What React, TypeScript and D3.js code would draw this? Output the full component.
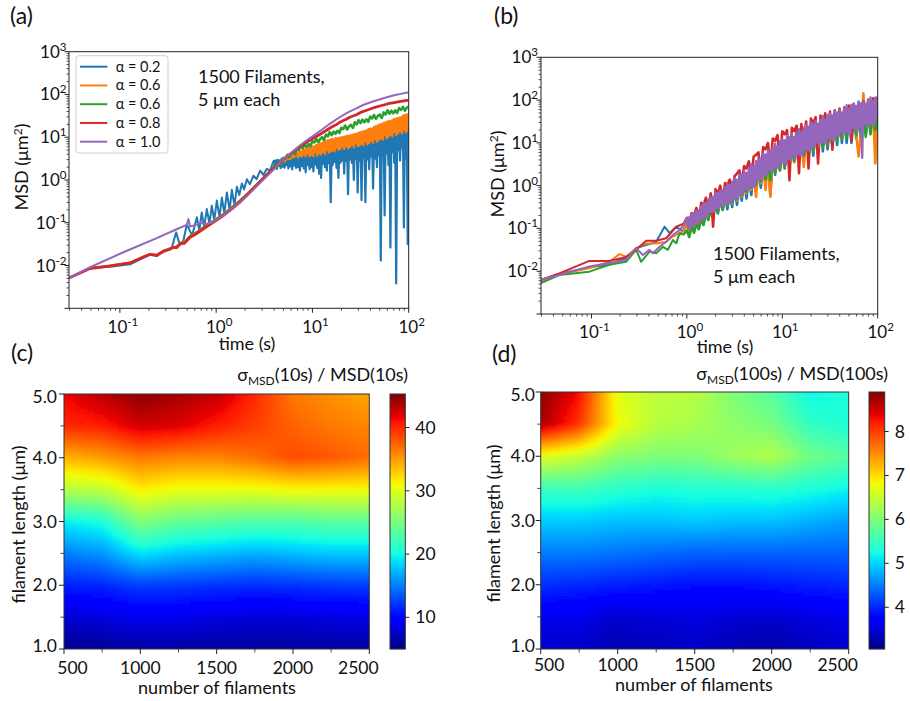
import React from "react";
import * as d3 from "d3";

type P = [number, number];
const FONT = "Lato, 'Open Sans', 'DejaVu Sans', sans-serif";

const seriesColors = ["#1f77b4", "#ff7f0e", "#2ca02c", "#d62728", "#9467bd"];
const seriesLabels = ["α = 0.2", "α = 0.6", "α = 0.6", "α = 0.8", "α = 1.0"];

const timeDomain: [number, number] = [0.0296, 100];
const msdDomain: [number, number] = [1e-3, 1e3];
const timeDecades = [-1, 0, 1, 2];
const msdDecades = [-2, -1, 0, 1, 2, 3];

// ---------- panel (a): [log10 t, log10 MSD] ----------
const aBlueHead: P[] = [[-1.529,-2.29],[-1.31,-2.06],[-1.10,-2.03],[-0.894,-1.97],[-0.756,-1.82],[-0.686,-1.74],[-0.617,-1.78],[-0.548,-1.66],[-0.46,-1.58],[-0.416,-1.225],[-0.38,-1.50],[-0.34,-1.42],[-0.305,-1.03],[-0.25,-1.30],[-0.20,-0.874],[-0.175,-1.18],[-0.15,-0.76],[-0.125,-1.10],[-0.097,-0.68],[-0.07,-1.02],[-0.045,-0.60],[-0.02,-0.95],[0.007,-0.48],[0.035,-0.88],[0.059,-0.41],[0.085,-0.78],[0.111,-0.29],[0.14,-0.70],[0.163,-0.23],[0.19,-0.60],[0.215,-0.16],[0.24,-0.35],[0.267,-0.08],[0.29,-0.22],[0.319,0.02],[0.35,-0.10],[0.388,0.10],[0.42,0.02],[0.457,0.22],[0.49,0.12],[0.527,0.26],[0.56,0.22],[0.585,0.38]];
const aOrangeHead: P[] = [[-1.529,-2.29],[-1.31,-2.06],[-1.10,-2.00],[-0.894,-1.93],[-0.756,-1.79],[-0.686,-1.73],[-0.617,-1.75],[-0.548,-1.65],[-0.48,-1.60],[-0.45,-1.56],[-0.409,-1.55],[-0.37,-1.46],[-0.33,-1.45],[-0.27,-1.30],[-0.20,-1.21],[-0.132,-1.10],[-0.05,-0.98],[0.076,-0.79],[0.16,-0.64],[0.25,-0.47],[0.34,-0.28],[0.423,-0.09],[0.51,0.10],[0.585,0.27]];
const aGreenHead: P[] = [[-1.529,-2.29],[-1.31,-2.06],[-1.10,-2.01],[-0.894,-1.94],[-0.756,-1.80],[-0.686,-1.74],[-0.617,-1.76],[-0.548,-1.66],[-0.48,-1.61],[-0.45,-1.57],[-0.409,-1.56],[-0.37,-1.47],[-0.33,-1.46],[-0.27,-1.31],[-0.20,-1.22],[-0.132,-1.11],[-0.05,-0.99],[0.076,-0.80],[0.16,-0.65],[0.25,-0.48],[0.34,-0.29],[0.423,-0.10],[0.51,0.09],[0.585,0.27]];
const aRedLine: P[] = [[-1.529,-2.29],[-1.31,-2.07],[-1.10,-2.01],[-0.894,-1.94],[-0.756,-1.80],[-0.686,-1.74],[-0.617,-1.76],[-0.548,-1.67],[-0.48,-1.62],[-0.45,-1.58],[-0.409,-1.58],[-0.37,-1.49],[-0.33,-1.48],[-0.27,-1.34],[-0.20,-1.25],[-0.132,-1.14],[-0.05,-1.02],[0.076,-0.83],[0.16,-0.68],[0.25,-0.51],[0.34,-0.31],[0.423,-0.12],[0.51,0.08],[0.6,0.28],[0.65,0.38],[0.70,0.48],[0.735,0.55],[0.80,0.66],[0.85,0.75],[0.90,0.83],[0.95,0.90],[1.0,0.97],[1.05,1.03],[1.1,1.10],[1.15,1.17],[1.2,1.24],[1.25,1.30],[1.3,1.37],[1.35,1.42],[1.4,1.48],[1.45,1.52],[1.5,1.58],[1.55,1.62],[1.6,1.66],[1.65,1.70],[1.7,1.73],[1.75,1.76],[1.8,1.79],[1.85,1.81],[1.9,1.83],[1.95,1.85],[2.0,1.87]];
const aPurpleLine: P[] = [[-1.529,-2.29],[-1.31,-2.04],[-0.964,-1.69],[-0.617,-1.36],[-0.40,-1.14],[-0.305,-1.05],[-0.288,-0.91],[-0.27,-1.09],[-0.20,-1.04],[-0.166,-1.00],[-0.10,-1.02],[-0.05,-1.00],[0.0,-0.93],[0.076,-0.83],[0.16,-0.68],[0.25,-0.52],[0.34,-0.33],[0.423,-0.14],[0.51,0.05],[0.596,0.24],[0.665,0.42],[0.735,0.55],[0.85,0.77],[0.93,0.91],[1.011,1.036],[1.1,1.18],[1.185,1.32],[1.27,1.45],[1.359,1.57],[1.45,1.67],[1.532,1.76],[1.62,1.83],[1.705,1.89],[1.78,1.94],[1.85,1.98],[1.93,2.02],[2.0,2.05]];

const aNoiseTFine = [0.60,0.61,0.62,0.63,0.64,0.65,0.66,0.67,0.68,0.69,
  0.70,0.71,0.72,0.73,0.74,0.75,0.76,0.77,0.78,0.79,
  0.80,0.81,0.82,0.83,0.84,0.85,0.86,0.87,0.88,0.89,
  0.90,0.91,0.92,0.93,0.94,0.95,0.96,0.97,0.98,0.99,
  1.00,1.01,1.02,1.03,1.04,1.05,1.06,1.07,1.08,1.09,
  1.10,1.11,1.12,1.13,1.14,1.15,1.16,1.17,1.18,1.19,
  1.20,1.21,1.22,1.23,1.24,1.25,1.26,1.27,1.28,1.29,
  1.30,1.31,1.32,1.33,1.34,1.35,1.36,1.37,1.38,1.39,
  1.40,1.41,1.42,1.43,1.44,1.45,1.46,1.47,1.48,1.49,
  1.50,1.51,1.52,1.53,1.54,1.55,1.56,1.57,1.58,1.59,
  1.60,1.61,1.62,1.63,1.64,1.65,1.66,1.67,1.68,1.69,
  1.70,1.71,1.72,1.73,1.74,1.75,1.76,1.77,1.78,1.79,
  1.80,1.81,1.82,1.83,1.84,1.85,1.86,1.87,1.88,1.89,
  1.90,1.91,1.92,1.93,1.94,1.95,1.96,1.97,1.98,1.99,
  2.00];
const aNoiseTCoarse = [0.60,0.62,0.64,0.66,0.68,0.70,0.72,0.74,0.76,0.78,0.80,0.82,0.84,0.86,0.88,0.90,0.92,0.94,0.96,0.98,1.00,1.02,1.04,1.06,1.08,1.10,1.12,1.14,1.16,1.18,1.20,1.22,1.24,1.26,1.28,1.30,1.32,1.34,1.36,1.38,1.40,1.42,1.44,1.46,1.48,1.50,1.52,1.54,1.56,1.58,1.60,1.62,1.64,1.66,1.68,1.70,1.72,1.74,1.76,1.78,1.80,1.82,1.84,1.86,1.88,1.90,1.92,1.94,1.96,1.98,2.00];
const aBlueNoise = [0.45,0.30,0.46,0.26,0.47,0.33,0.46,0.28,0.50,0.31,
  0.51,0.29,0.50,0.35,0.53,0.27,0.54,0.32,0.55,0.25,
  0.57,0.34,0.56,0.28,0.58,0.30,0.59,0.22,0.58,0.33,
  0.61,0.27,0.60,0.18,0.62,0.35,0.63,0.25,0.62,0.30,
  0.65,0.20,0.64,0.36,0.66,0.28,0.65,0.15,0.68,0.05,
  0.69,0.38,0.68,0.30,0.70,0.22,0.71,0.40,0.70,-0.52,
  0.72,0.35,0.73,0.42,0.72,0.28,0.75,0.05,0.76,0.40,
  0.77,0.45,0.76,0.15,0.79,0.44,0.80,-0.33,0.81,0.48,
  0.82,0.40,0.83,0.00,0.84,0.50,0.85,-0.29,0.86,0.45,
  0.87,-0.47,0.88,0.52,0.89,-0.52,0.90,0.48,0.92,0.25,
  0.93,0.55,0.94,-0.20,0.95,0.50,0.96,0.30,0.98,0.58,
  0.99,-1.88,1.00,0.55,1.01,-0.83,1.02,0.62,1.04,0.35,
  1.05,-1.58,1.06,0.65,1.08,0.40,1.09,-2.42,1.11,0.70,
  1.13,0.45,1.14,0.75,1.15,-1.11,1.17,0.50,1.18,-1.50,
  1.20];
const aOrangeNoise = [0.30,0.31,0.33,0.33,0.36,0.36,0.39,0.38,0.42,0.41,
  0.47,0.43,0.49,0.48,0.50,0.49,0.55,0.49,0.52,0.55,
  0.60,0.53,0.61,0.58,0.62,0.53,0.66,0.56,0.67,0.55,
  0.70,0.60,0.71,0.55,0.73,0.62,0.75,0.56,0.76,0.59,
  0.78,0.55,0.79,0.65,0.82,0.57,0.82,0.62,0.86,0.60,
  0.87,0.66,0.90,0.61,0.91,0.70,0.93,0.64,0.94,0.67,
  0.96,0.70,0.95,0.67,0.98,0.76,0.98,0.70,0.99,0.73,
  1.00,0.78,1.01,0.72,1.02,0.80,1.03,0.74,1.04,0.77,
  1.05,0.82,1.06,0.76,1.08,0.86,1.08,0.79,1.11,0.81,
  1.12,0.85,1.13,0.81,1.15,0.90,1.16,0.83,1.19,0.86,
  1.20,0.92,1.21,0.87,1.24,0.96,1.26,0.89,1.28,0.93,
  1.30,0.98,1.31,0.94,1.34,1.05,1.35,0.97,1.37,1.01,
  1.38,1.06,1.39,1.02,1.42,1.13,1.43,1.05,1.45,1.09,
  1.46,1.14,1.47,1.09,1.51,1.18,1.52,1.12,1.54,1.16,
  1.55];
const aGreenNoise = [0.30,0.37,0.33,0.42,0.38,0.52,0.50,0.59,0.53,0.61,
  0.66,0.60,0.73,0.70,0.80,0.74,0.82,0.77,0.84,0.79,
  0.91,0.88,0.96,0.88,0.96,1.00,0.93,1.06,1.02,1.12,
  1.05,1.13,1.08,1.15,1.10,1.22,1.19,1.27,1.18,1.25,
  1.29,1.22,1.35,1.30,1.40,1.33,1.41,1.35,1.42,1.36,
  1.48,1.44,1.52,1.43,1.50,1.53,1.45,1.58,1.53,1.63,
  1.55,1.62,1.56,1.63,1.57,1.68,1.64,1.71,1.62,1.69,
  1.72];

// ---------- panel (b) ----------
const bBlueHead: P[] = [[-1.529,-2.22],[-1.337,-2.06],[-1.022,-1.91],[-0.812,-1.85],[-0.707,-1.74],[-0.637,-1.70],[-0.531,-1.46],[-0.426,-1.39],[-0.321,-1.31],[-0.234,-0.96],[-0.181,-1.11],[-0.111,-0.96],[-0.041,-1.07]];
const bOrangeHead: P[] = [[-1.529,-2.24],[-1.337,-2.07],[-1.022,-1.93],[-0.812,-1.78],[-0.707,-1.60],[-0.637,-1.66],[-0.531,-1.46],[-0.426,-1.35],[-0.321,-1.35],[-0.216,-1.31],[-0.146,-1.19],[-0.076,-1.11],[-0.03,-1.05]];
const bGreenHead: P[] = [[-1.529,-2.28],[-1.337,-2.09],[-1.022,-2.01],[-0.812,-1.85],[-0.637,-1.78],[-0.531,-1.50],[-0.479,-1.78],[-0.391,-1.54],[-0.321,-1.58],[-0.251,-1.43],[-0.199,-1.50],[-0.146,-1.27],[-0.111,-1.35],[-0.076,-1.11],[-0.041,-1.15]];
const bRedHead: P[] = [[-1.529,-2.20],[-1.337,-2.05],[-1.022,-1.76],[-0.812,-1.76],[-0.637,-1.67],[-0.531,-1.50],[-0.426,-1.29],[-0.321,-1.29],[-0.216,-1.23],[-0.111,-0.96],[-0.03,-0.88]];
const bPurpleHead: P[] = [[-1.529,-2.20],[-1.337,-2.09],[-1.022,-1.89],[-0.812,-1.81],[-0.637,-1.74],[-0.531,-1.46],[-0.461,-1.62],[-0.391,-1.50],[-0.356,-1.58],[-0.286,-1.43],[-0.216,-1.31],[-0.146,-1.15],[-0.076,-1.04],[-0.03,-0.90]];

const bNoiseT = [0,0.025,0.05,0.075,0.1,0.125,0.15,0.175,0.2,0.225,0.25,0.275,0.3,0.325,0.35,0.375,0.4,0.425,0.45,0.475,0.5,0.525,0.55,0.575,0.6,0.625,0.65,0.675,0.7,0.725,0.75,0.775,0.8,0.825,0.85,0.875,0.9,0.925,0.95,0.975,1,1.025,1.05,1.075,1.1,1.125,1.15,1.175,1.2,1.225,1.25,1.275,1.3,1.325,1.35,1.375,1.4,1.425,1.45,1.475,1.5,1.525,1.55,1.575,1.6,1.625,1.65,1.675,1.7,1.725,1.75,1.775,1.8,1.825,1.85,1.875,1.9,1.925,1.95,1.975,2];
const bNoiseTFine = [0,0.0125,0.025,0.0375,0.05,0.0625,0.075,0.0875,
  0.1,0.1125,0.125,0.1375,0.15,0.1625,0.175,0.1875,
  0.2,0.2125,0.225,0.2375,0.25,0.2625,0.275,0.2875,
  0.3,0.3125,0.325,0.3375,0.35,0.3625,0.375,0.3875,
  0.4,0.4125,0.425,0.4375,0.45,0.4625,0.475,0.4875,
  0.5,0.5125,0.525,0.5375,0.55,0.5625,0.575,0.5875,
  0.6,0.6125,0.625,0.6375,0.65,0.6625,0.675,0.6875,
  0.7,0.7125,0.725,0.7375,0.75,0.7625,0.775,0.7875,
  0.8,0.8125,0.825,0.8375,0.85,0.8625,0.875,0.8875,
  0.9,0.9125,0.925,0.9375,0.95,0.9625,0.975,0.9875,
  1,1.0125,1.025,1.0375,1.05,1.0625,1.075,1.0875,
  1.1,1.1125,1.125,1.1375,1.15,1.1625,1.175,1.1875,
  1.2,1.2125,1.225,1.2375,1.25,1.2625,1.275,1.2875,
  1.3,1.3125,1.325,1.3375,1.35,1.3625,1.375,1.3875,
  1.4,1.4125,1.425,1.4375,1.45,1.4625,1.475,1.4875,
  1.5,1.5125,1.525,1.5375,1.55,1.5625,1.575,1.5875,
  1.6,1.6125,1.625,1.6375,1.65,1.6625,1.675,1.6875,
  1.7,1.7125,1.725,1.7375,1.75,1.7625,1.775,1.7875,
  1.8,1.8125,1.825,1.8375,1.85,1.8625,1.875,1.8875,
  1.9,1.9125,1.925,1.9375,1.95,1.9625,1.975,1.9875,
  2];
const bBlueNoise = [-0.85,-1.10,-0.80,-1.00,-0.70,-0.95,-0.62,-0.85,-0.50,-0.80,
  -0.45,-0.70,-0.35,-0.65,-0.25,-0.57,-0.20,-0.55,-0.12,-0.50,
  -0.05,-0.45,0.05,-0.35,0.12,-0.30,0.20,-0.22,0.30,-0.10,
  0.40,-0.05,0.50,0.05,0.60,-0.22,0.70,0.25,0.75,0.35,
  0.85,0.40,0.90,0.45,1.00,0.55,1.05,0.55,1.10,0.65,
  1.20,0.68,1.25,0.70,1.40,0.75,1.55,0.80,1.50,0.85,
  1.45,0.91,1.50,0.95,1.55,1.00,1.60,1.00,1.65,1.00,
  1.70,1.10,1.72,1.15,1.75,1.20,1.80,1.25,1.82,1.30,
  1.85];
const bOrangeNoise = [-0.88,-1.12,-0.80,-1.05,-0.72,-0.95,-0.62,-0.82,-0.52,-0.72,
  -0.42,-0.66,-0.33,-0.60,-0.26,-0.52,-0.20,-0.47,-0.12,-0.42,
  -0.04,-0.35,0.05,-0.26,0.15,-0.18,0.22,-0.10,0.32,-0.26,
  0.42,0.06,0.50,-0.10,0.60,-0.26,0.70,0.30,0.78,0.38,
  0.85,0.45,0.90,0.50,0.98,0.55,1.02,0.60,1.08,0.44,
  1.15,0.75,1.20,0.80,1.25,0.85,1.30,0.90,1.35,0.95,
  1.40,1.00,1.45,1.05,1.50,1.10,1.55,1.15,1.60,1.15,
  1.65,1.20,0.68,1.25,2.16,1.30,1.78,1.30,1.82,0.52,
  1.85];
const bGreenNoise = [-1.05,-1.20,-0.95,-1.10,-0.90,-1.02,-0.78,-0.92,-0.65,-0.80,
  -0.55,-0.72,-0.45,-0.62,-0.35,-0.55,-0.28,-0.48,-0.20,-0.40,
  -0.10,-0.32,0.00,-0.22,0.08,-0.15,0.18,-0.05,0.28,0.02,
  0.36,0.10,0.45,0.15,0.55,0.13,0.65,0.30,0.72,0.38,
  0.80,0.45,0.88,0.50,0.95,0.58,1.38,0.62,1.05,0.70,
  1.12,0.75,1.18,0.80,1.22,0.85,1.28,0.90,1.32,0.95,
  1.38,1.00,1.42,1.05,1.48,1.10,1.52,1.12,1.56,1.15,
  1.60,1.18,1.64,1.14,1.68,1.14,1.72,1.20,1.75,1.30,
  1.60];
const bRedNoise = [-0.75,-0.92,-0.64,-0.70,-0.52,-0.85,-0.40,-0.45,-0.28,-0.55,
  -0.18,-0.96,-0.08,-0.20,0.00,-0.35,0.06,0.02,0.14,-0.20,
  0.22,0.28,0.36,0.05,0.46,0.40,0.57,0.15,0.68,0.72,
  0.78,0.30,0.90,0.85,1.00,0.45,1.10,1.05,1.18,0.55,
  1.27,1.20,1.30,0.13,1.35,1.28,1.40,0.29,1.44,1.00,
  1.50,0.40,1.57,1.45,1.60,0.52,1.64,1.20,1.69,1.05,
  1.73,0.84,1.76,1.40,1.80,1.25,1.83,1.50,1.87,1.05,
  1.90,1.45,1.94,1.40,1.98,1.60,2.01,1.50,2.04,1.70,
  2.07];
const bPurpleNoise = [-0.76,-1.00,-0.74,-1.00,-0.67,-0.92,-0.65,-0.92,-0.59,-0.83,
  -0.58,-0.85,-0.49,-0.77,-0.41,-0.74,-0.41,-0.73,-0.33,-0.62,
  -0.27,-0.61,-0.26,-0.61,-0.16,-0.52,-0.17,-0.54,-0.11,-0.44,
  -0.12,-0.49,-0.04,-0.42,0.04,-0.41,0.00,-0.42,0.09,-0.29,
  0.16,-0.30,0.14,-0.31,0.26,-0.18,0.25,-0.20,0.33,-0.07,
  0.30,-0.12,0.42,-0.03,0.50,-0.02,0.46,-0.03,0.57,0.13,
  0.64,0.14,0.63,0.13,0.75,0.26,0.73,0.25,0.82,0.37,
  0.78,0.31,0.89,0.40,0.98,0.41,0.92,0.40,1.04,0.55,
  1.09,0.53,1.06,0.50,1.17,0.62,1.13,0.59,1.20,0.72,
  1.14,0.63,1.24,0.73,1.32,0.72,1.25,0.71,1.35,0.85,
  1.41,0.83,1.38,0.80,1.49,0.93,1.45,0.88,1.51,1.01,
  1.45,0.92,1.54,1.01,1.63,1.00,1.55,0.97,1.65,1.11,
  1.68,1.09,1.64,1.04,1.75,1.17,1.71,1.13,1.77,1.26,
  1.71,1.16,1.80,1.25,1.88,1.24,1.80,1.21,1.89,1.35,
  1.92,1.32,1.86,1.26,1.97,1.39,1.92,0.65,1.98,1.46,
  1.91,1.36,2.00,1.45,2.06,1.44,1.98,1.41,2.06,1.56,
  2.09];

// ---------- heatmaps ----------
const filamentCounts = [500, 750, 1000, 1250, 1500, 1750, 2000, 2250, 2500];
const filamentLengths = [1.0, 1.5, 2.0, 2.5, 3.0, 3.5, 4.0, 4.5, 5.0];
const countTicks = [500, 1000, 1500, 2000, 2500];
const countMinorTicks = [750, 1250, 1750, 2250];
const lengthTicks = [1, 2, 3, 4, 5];
const lengthMinorTicks = [1.5, 2.5, 3.5, 4.5];

// rows follow filamentLengths (1.0 -> 5.0), columns follow filamentCounts
const ratio10s = [
  [5.5, 5.8, 6.2, 6.2, 6.0, 6.0, 6.0, 6.2, 6.2],
  [8.0, 8.3, 9.0, 8.8, 8.4, 8.2, 8.2, 8.4, 8.5],
  [11.2, 11.5, 12.5, 12.3, 12.0, 11.8, 12.0, 12.3, 12.5],
  [15.0, 16.0, 19.0, 18.0, 17.5, 17.0, 17.5, 18.0, 18.0],
  [19.5, 20.5, 25.5, 24.0, 23.5, 23.0, 23.0, 23.5, 23.5],
  [28.0, 28.5, 31.5, 30.5, 30.5, 30.5, 31.0, 31.0, 31.0],
  [34.0, 35.0, 36.5, 36.0, 36.0, 37.0, 38.5, 38.0, 37.0],
  [40.0, 40.5, 42.5, 42.0, 40.5, 39.0, 37.5, 36.5, 36.0],
  [41.5, 43.3, 44.8, 44.0, 43.0, 40.0, 36.5, 35.5, 34.5],
];
const ratio100s = [
  [3.45, 3.4, 3.3, 3.35, 3.4, 3.3, 3.25, 3.35, 3.45],
  [3.6, 3.6, 3.45, 3.5, 3.55, 3.5, 3.45, 3.55, 3.6],
  [4.05, 4.0, 3.95, 3.9, 3.85, 3.85, 3.9, 3.95, 4.0],
  [4.5, 4.5, 4.45, 4.4, 4.35, 4.35, 4.35, 4.35, 4.35],
  [4.95, 4.95, 4.9, 4.9, 4.95, 4.9, 4.9, 4.8, 4.7],
  [5.5, 5.55, 5.4, 5.3, 5.35, 5.35, 5.4, 5.3, 5.2],
  [6.7, 6.5, 6.1, 6.0, 6.0, 6.2, 6.35, 5.9, 5.7],
  [8.7, 8.05, 6.8, 6.4, 6.3, 6.1, 5.95, 5.45, 5.3],
  [8.85, 8.3, 6.7, 6.45, 6.4, 6.0, 5.7, 5.2, 5.3],
];
const colorRange10s: [number, number] = [5, 45.3];
const colorRange100s: [number, number] = [3.05, 8.9];
const colorTicks10s = [10, 20, 30, 40];
const colorTicks100s = [4, 5, 6, 7, 8];

// ---------- helpers ----------
const jr = d3.scaleLinear<number>().domain([0, 0.35, 0.66, 0.89, 1]).range([0, 0, 1, 1, 0.5]).clamp(true);
const jg = d3.scaleLinear<number>().domain([0, 0.125, 0.375, 0.64, 0.91, 1]).range([0, 0, 1, 1, 0, 0]).clamp(true);
const jb = d3.scaleLinear<number>().domain([0, 0.11, 0.34, 0.65, 1]).range([0.5, 1, 1, 0, 0]).clamp(true);
const jet = (t: number) => `rgb(${Math.round(255 * jr(t))},${Math.round(255 * jg(t))},${Math.round(255 * jb(t))})`;

function bilinear(grid: number[][], xs: number[], ys: number[], x: number, y: number) {
  const i = Math.max(0, Math.min(xs.length - 2, d3.bisectRight(xs, x) - 1));
  const j = Math.max(0, Math.min(ys.length - 2, d3.bisectRight(ys, y) - 1));
  const tx = Math.max(0, Math.min(1, (x - xs[i]) / (xs[i + 1] - xs[i])));
  const ty = Math.max(0, Math.min(1, (y - ys[j]) / (ys[j + 1] - ys[j])));
  return grid[j][i] * (1 - tx) * (1 - ty) + grid[j][i + 1] * tx * (1 - ty) + grid[j + 1][i] * (1 - tx) * ty + grid[j + 1][i + 1] * tx * ty;
}

const tailOf = (head: P[], ts: number[], ys: number[]): P[] => [head[head.length - 1] as P].concat(ts.map((t, i) => [t, ys[i]] as P));

function Pow10({ x, y, exp, anchor, size }: { x: number; y: number; exp: number; anchor: string; size: number }) {
  return (
    <text x={x} y={y} textAnchor={anchor} fontSize={size} fill="#111">
      10<tspan dy={-7} fontSize={size * 0.68}>{exp < 0 ? "-" + Math.abs(exp) : String(exp)}</tspan>
    </text>
  );
}

type LogPanelProps = {
  id: string; left: number; right: number; top: number; bottom: number;
  series: { pts: P[]; color: string; width: number }[];
  xTickBase: number; yTickRight: number;
  yLabelX: number; yLabelY: number; xLabelX: number; xLabelY: number;
};

function LogPanel(p: LogPanelProps) {
  const x = d3.scaleLog().domain(timeDomain).range([p.left, p.right]);
  const y = d3.scaleLog().domain(msdDomain).range([p.bottom, p.top]);
  const line = d3.line<P>().x(d => x(Math.pow(10, d[0]))).y(d => y(Math.pow(10, d[1])));
  const xMinor: number[] = [];
  for (let k = -2; k <= 1; k++) for (let m = 2; m <= 9; m++) { const v = m * Math.pow(10, k); if (v >= timeDomain[0] && v <= timeDomain[1]) xMinor.push(v); }
  const yMinor: number[] = [];
  for (let k = -3; k <= 2; k++) for (let m = 2; m <= 9; m++) yMinor.push(m * Math.pow(10, k));
  return (
    <g>
      <clipPath id={p.id}><rect x={p.left} y={p.top} width={p.right - p.left} height={p.bottom - p.top} /></clipPath>
      <g clipPath={`url(#${p.id})`} fill="none" strokeLinejoin="round">
        {p.series.map((s, i) => <path key={i} d={line(s.pts) || ""} stroke={s.color} strokeWidth={s.width} />)}
      </g>
      <rect x={p.left} y={p.top} width={p.right - p.left} height={p.bottom - p.top} fill="none" stroke="#222" strokeWidth={1} />
      {xMinor.map((v, i) => <line key={"xm" + i} x1={x(v)} x2={x(v)} y1={p.bottom} y2={p.bottom + 2.5} stroke="#222" strokeWidth={0.8} />)}
      {timeDecades.map(k => <line key={"xM" + k} x1={x(Math.pow(10, k))} x2={x(Math.pow(10, k))} y1={p.bottom} y2={p.bottom + 4.5} stroke="#222" strokeWidth={1} />)}
      {yMinor.map((v, i) => <line key={"ym" + i} x1={p.left - 2.5} x2={p.left} y1={y(v)} y2={y(v)} stroke="#222" strokeWidth={0.8} />)}
      {[-3, ...msdDecades].map(k => <line key={"yM" + k} x1={p.left - 4.5} x2={p.left} y1={y(Math.pow(10, k))} y2={y(Math.pow(10, k))} stroke="#222" strokeWidth={1} />)}
      {timeDecades.map(k => <Pow10 key={"xl" + k} x={x(Math.pow(10, k)) + 3} y={p.xTickBase} exp={k} anchor="middle" size={17} />)}
      {msdDecades.map(k => <Pow10 key={"yl" + k} x={p.yTickRight} y={y(Math.pow(10, k)) + 6} exp={k} anchor="end" size={17} />)}
      <text transform={`translate(${p.yLabelX},${p.yLabelY}) rotate(-90)`} textAnchor="middle" fontSize={18} fill="#111">
        MSD (μm<tspan dy={-6} fontSize={12}>2</tspan><tspan dy={6}>)</tspan>
      </text>
      <text x={p.xLabelX} y={p.xLabelY} textAnchor="middle" fontSize={18} fill="#111">time (s)</text>
    </g>
  );
}

type HeatProps = {
  id: string; grid: number[][]; left: number; right: number; top: number; bottom: number;
  cbLeft: number; cbRight: number; cRange: [number, number]; cTicks: number[];
  titleRight: number; titleBase: number; titleArg: string;
  yLabelX: number; xLabelX: number; xLabelY: number; xTickBase: number; yTickRight: number;
};

function Heatmap(p: HeatProps) {
  const x = d3.scaleLinear().domain([500, 2500]).range([p.left, p.right]);
  const y = d3.scaleLinear().domain([1, 5]).range([p.bottom, p.top]);
  const cb = d3.scaleLinear().domain(p.cRange).range([p.bottom, p.top]);
  const norm = (v: number) => (v - p.cRange[0]) / (p.cRange[1] - p.cRange[0]);
  const step = 3;
  const cells: { px: number; py: number; c: string }[] = [];
  for (let px = Math.floor(p.left) - 6; px < p.right + 6; px += step) {
    for (let py = Math.floor(p.top) - 6; py < p.bottom + 6; py += step) {
      const v = bilinear(p.grid, filamentCounts, filamentLengths, x.invert(px + step / 2), y.invert(py + step / 2));
      cells.push({ px, py, c: jet(norm(v)) });
    }
  }
  const strips: { py: number; c: string }[] = [];
  for (let py = Math.floor(p.top); py < p.bottom; py += 1) strips.push({ py, c: jet(norm(cb.invert(py + 0.5))) });
  const xLabShift = (v: number) => (v === 500 ? 8.5 : v === 2500 ? -11 : 0);
  const yLabShift = (v: number) => (v === 5 ? 3 : v === 1 ? -3 : 0);
  return (
    <g>
      <clipPath id={p.id + "clip"}><rect x={p.left} y={p.top} width={p.right - p.left} height={p.bottom - p.top} /></clipPath>
      <filter id={p.id + "blur"} x="-5%" y="-5%" width="110%" height="110%"><feGaussianBlur stdDeviation={2} /></filter>
      <g clipPath={`url(#${p.id}clip)`}>
        <g filter={`url(#${p.id}blur)`}>
          {cells.map((c, i) => <rect key={i} x={c.px} y={c.py} width={step + 0.3} height={step + 0.3} fill={c.c} />)}
        </g>
      </g>
      <rect x={p.left} y={p.top} width={p.right - p.left} height={p.bottom - p.top} fill="none" stroke="#333" strokeWidth={1} />
      {countTicks.map(v => <line key={"xt" + v} x1={x(v)} x2={x(v)} y1={p.bottom} y2={p.bottom + 5} stroke="#222" />)}
      {countMinorTicks.map(v => <line key={"xm" + v} x1={x(v)} x2={x(v)} y1={p.bottom} y2={p.bottom + 3.5} stroke="#222" strokeWidth={0.8} />)}
      {lengthTicks.map(v => <line key={"yt" + v} x1={p.left - 5} x2={p.left} y1={y(v)} y2={y(v)} stroke="#222" />)}
      {lengthMinorTicks.map(v => <line key={"ym" + v} x1={p.left - 3.5} x2={p.left} y1={y(v)} y2={y(v)} stroke="#222" strokeWidth={0.8} />)}
      {countTicks.map(v => <text key={"xl" + v} x={x(v) + xLabShift(v)} y={p.xTickBase} textAnchor="middle" fontSize={17.5} fill="#111">{v}</text>)}
      {lengthTicks.map(v => <text key={"yl" + v} x={p.yTickRight} y={y(v) + 6 + yLabShift(v)} textAnchor="end" fontSize={17.5} fill="#111">{v.toFixed(1)}</text>)}
      <text transform={`translate(${p.yLabelX},${(p.top + p.bottom) / 2 + 3}) rotate(-90)`} textAnchor="middle" fontSize={18} fill="#111">filament length (μm)</text>
      <text x={p.xLabelX} y={p.xLabelY} textAnchor="middle" fontSize={18} fill="#111">number of filaments</text>
      {strips.map((s, i) => <rect key={"cb" + i} x={p.cbLeft} y={s.py} width={p.cbRight - p.cbLeft} height={1.2} fill={s.c} />)}
      <rect x={p.cbLeft} y={p.top} width={p.cbRight - p.cbLeft} height={p.bottom - p.top} fill="none" stroke="#333" strokeWidth={1} />
      {p.cTicks.map(v => <line key={"ct" + v} x1={p.cbRight} x2={p.cbRight + 4} y1={cb(v)} y2={cb(v)} stroke="#222" />)}
      {p.cTicks.map(v => <text key={"cl" + v} x={p.cbRight + 10} y={cb(v) + 6} fontSize={17.5} fill="#111">{v}</text>)}
      <text x={p.titleRight} y={p.titleBase} textAnchor="end" fontSize={18} fill="#111">
        σ<tspan dy={4} fontSize={12}>MSD</tspan><tspan dy={-4}>{`(${p.titleArg}) / MSD(${p.titleArg})`}</tspan>
      </text>
    </g>
  );
}

export default function App() {
  const aSeries = [
    { pts: aBlueHead, color: seriesColors[0], width: 2 },
    { pts: tailOf(aBlueHead, aNoiseTFine, aBlueNoise), color: seriesColors[0], width: 2.2 },
    { pts: aOrangeHead, color: seriesColors[1], width: 2 },
    { pts: tailOf(aOrangeHead, aNoiseTFine, aOrangeNoise), color: seriesColors[1], width: 2.2 },
    { pts: aGreenHead, color: seriesColors[2], width: 2 },
    { pts: tailOf(aGreenHead, aNoiseTCoarse, aGreenNoise), color: seriesColors[2], width: 2.6 },
    { pts: aRedLine, color: seriesColors[3], width: 2.8 },
    { pts: aPurpleLine, color: seriesColors[4], width: 2 },
  ];
  const bSeries = [
    { pts: bBlueHead, color: seriesColors[0], width: 2 },
    { pts: tailOf(bBlueHead, bNoiseT, bBlueNoise), color: seriesColors[0], width: 2.6 },
    { pts: bOrangeHead, color: seriesColors[1], width: 2 },
    { pts: tailOf(bOrangeHead, bNoiseT, bOrangeNoise), color: seriesColors[1], width: 2.6 },
    { pts: bGreenHead, color: seriesColors[2], width: 2 },
    { pts: tailOf(bGreenHead, bNoiseT, bGreenNoise), color: seriesColors[2], width: 2.6 },
    { pts: bRedHead, color: seriesColors[3], width: 2 },
    { pts: tailOf(bRedHead, bNoiseT, bRedNoise), color: seriesColors[3], width: 2.6 },
    { pts: bPurpleHead, color: seriesColors[4], width: 2 },
    { pts: tailOf(bPurpleHead, bNoiseTFine, bPurpleNoise), color: seriesColors[4], width: 2.4 },
  ];
  const legendY = d3.scaleLinear().domain([0, 4]).range([66.7, 141.7]);
  return (
    <svg width={910} height={701} style={{ position: "absolute", left: 0, top: 0, background: "#fff" }} fontFamily={FONT}>
      <rect x={0} y={0} width={910} height={701} fill="#fff" />
      <LogPanel id="clipA" left={69} right={408.7} top={51.7} bottom={308.3} series={aSeries}
        xTickBase={333} yTickRight={66.5} yLabelX={28} yLabelY={167} xLabelX={247} xLabelY={350} />
      <LogPanel id="clipB" left={541} right={877.7} top={57.3} bottom={314} series={bSeries}
        xTickBase={338} yTickRight={538} yLabelX={504} yLabelY={174} xLabelX={725} xLabelY={353} />
      <rect x={76} y={55.7} width={92} height={97.3} rx={3} fill="#fff" fillOpacity={0.85} stroke="#d0d0d0" />
      {seriesLabels.map((lab, i) => (
        <g key={lab + i}>
          <line x1={80} x2={107.3} y1={legendY(i)} y2={legendY(i)} stroke={seriesColors[i]} strokeWidth={2} />
          <text x={115.7} y={legendY(i) + 5} fontSize={14.5} fill="#111">{lab}</text>
        </g>
      ))}
      <text x={198} y={83} fontSize={18} fill="#111">1500 Filaments,</text>
      <text x={198} y={106} fontSize={18} fill="#111">5 μm each</text>
      <text x={713} y={260} fontSize={18} fill="#111">1500 Filaments,</text>
      <text x={713} y={283} fontSize={18} fill="#111">5 μm each</text>

      <Heatmap id="hc" grid={ratio10s} left={64} right={369.3} top={394} bottom={649} cbLeft={390} cbRight={405.3}
        cRange={colorRange10s} cTicks={colorTicks10s} titleRight={408} titleBase={381} titleArg="10s"
        yLabelX={25} xLabelX={217} xLabelY={694} xTickBase={674} yTickRight={57} />
      <Heatmap id="hd" grid={ratio100s} left={540.7} right={848.7} top={392} bottom={649} cbLeft={869} cbRight={884.7}
        cRange={colorRange100s} cTicks={colorTicks100s} titleRight={888} titleBase={380} titleArg="100s"
        yLabelX={500} xLabelX={694} xLabelY={691} xTickBase={671} yTickRight={535} />

      <text x={10} y={24} fontSize={23} fill="#111">(a)</text>
      <text x={494} y={24} fontSize={23} fill="#111">(b)</text>
      <text x={11} y={361} fontSize={23} fill="#111">(c)</text>
      <text x={492} y={362} fontSize={23} fill="#111">(d)</text>
    </svg>
  );
}
